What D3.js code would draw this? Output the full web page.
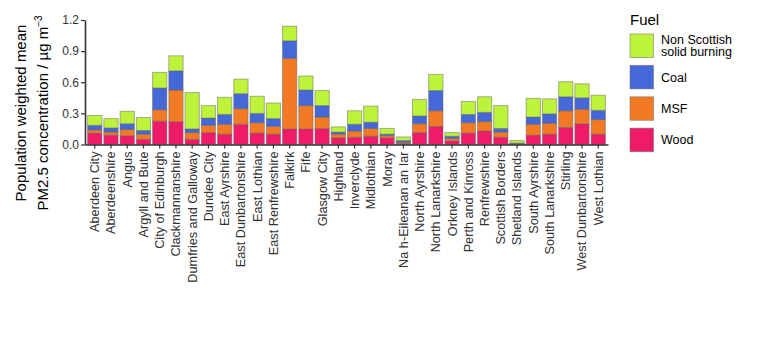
<!DOCTYPE html>
<html>
<head>
<meta charset="utf-8">
<script src="https://cdn.jsdelivr.net/npm/d3@7"></script>
<style>
  body { margin: 0; background: #fff; font-family: "Liberation Sans", Arial, sans-serif; }
  .axis text { font-family: "Liberation Sans", Arial, sans-serif; fill: #333; }
</style>
</head>
<body>
<div id="chart"></div>
<script>
// DATA
const districts = ["Aberdeen City", "Aberdeenshire", "Angus", "Argyll and Bute", "City of Edinburgh",
  "Clackmannanshire", "Dumfries and Galloway", "Dundee City", "East Ayrshire", "East Dunbartonshire",
  "East Lothian", "East Renfrewshire", "Falkirk", "Fife", "Glasgow City", "Highland", "Inverclyde",
  "Midlothian", "Moray", "Na h-Eileanan an Iar", "North Ayrshire", "North Lanarkshire", "Orkney Islands",
  "Perth and Kinross", "Renfrewshire", "Scottish Borders", "Shetland Islands", "South Ayrshire",
  "South Lanarkshire", "Stirling", "West Dunbartonshire", "West Lothian"];

const wood  = [0.11, 0.09, 0.085, 0.05, 0.225, 0.22, 0.05, 0.115, 0.10, 0.195, 0.11, 0.10, 0.15, 0.15, 0.155, 0.065,
  0.07, 0.08, 0.065, 0.012, 0.115, 0.175, 0.035, 0.11, 0.13, 0.07, 0.005, 0.09, 0.10, 0.165, 0.20, 0.10];
const msf   = [0.03, 0.03, 0.06, 0.05, 0.11, 0.305, 0.065, 0.07, 0.095, 0.15, 0.10, 0.075, 0.68, 0.225, 0.11, 0.035,
  0.06, 0.075, 0.02, 0.01, 0.085, 0.15, 0.023, 0.10, 0.09, 0.05, 0.004, 0.105, 0.105, 0.16, 0.14, 0.14];
const coal  = [0.045, 0.04, 0.055, 0.035, 0.21, 0.185, 0.035, 0.07, 0.095, 0.145, 0.09, 0.075, 0.17, 0.15, 0.11, 0.02,
  0.065, 0.06, 0.015, 0.016, 0.075, 0.195, 0.022, 0.08, 0.09, 0.035, 0.005, 0.07, 0.09, 0.135, 0.11, 0.09];
const nonScottish = [0.095, 0.09, 0.12, 0.125, 0.15, 0.145, 0.35, 0.12, 0.165, 0.14, 0.165, 0.15, 0.14, 0.135, 0.145, 0.05,
  0.13, 0.155, 0.055, 0.035, 0.16, 0.155, 0.035, 0.125, 0.15, 0.22, 0.024, 0.18, 0.145, 0.145, 0.135, 0.145];

const fuels = ["Wood", "MSF", "Coal", "Non Scottish solid burning"];
const fuelColors = ["#ef1a68", "#f37a25", "#4468d8", "#bef33c"];
const yTicks = [0, 0.3, 0.6, 0.9, 1.2];

// CHART AREA
const W = 764, H = 349;
const plot = {left: 85, right: 608, top: 20, bottom: 144.5};

const svg = d3.select("#chart").append("svg")
  .attr("width", W)
  .attr("height", H);

// table for the stack
const rows = districts.map((d, i) => ({
  district: d,
  "Wood": wood[i],
  "MSF": msf[i],
  "Coal": coal[i],
  "Non Scottish solid burning": nonScottish[i]
}));

const series = d3.stack().keys(fuels)(rows);

// SCALES
const x = d3.scaleBand()
  .domain(districts)
  .range([plot.left, plot.right])
  .paddingInner(0.12)
  .paddingOuter(0.16);

const y = d3.scaleLinear()
  .domain([0, 1.2])
  .range([plot.bottom, plot.top]);

const color = d3.scaleOrdinal().domain(fuels).range(fuelColors);

// BARS
svg.append("g").selectAll("g")
  .data(series)
  .enter().append("g")
  .attr("fill", d => color(d.key))
  .selectAll("rect")
  .data(d => d)
  .enter().append("rect")
  .attr("x", d => x(d.data.district))
  .attr("y", d => y(d[1]))
  .attr("width", x.bandwidth())
  .attr("height", d => y(d[0]) - y(d[1]))
  .attr("stroke", "#666")
  .attr("stroke-opacity", 0.5)
  .attr("stroke-width", 1);

// AXES
const xAxis = d3.axisBottom(x).tickSize(4).tickSizeOuter(0);
const yAxis = d3.axisLeft(y).tickValues(yTicks).tickFormat(d3.format(".1f")).tickSize(4).tickSizeOuter(0);

const xg = svg.append("g")
  .attr("class", "x-axis axis")
  .attr("transform", "translate(0," + plot.bottom + ")")
  .call(xAxis);
xg.select(".domain").attr("stroke", "#333").attr("stroke-width", 1.6);
xg.selectAll(".tick line").attr("stroke", "#333").attr("stroke-width", 1.2);
xg.selectAll(".tick text")
  .attr("font-size", 12.7)
  .attr("transform", "rotate(-90)")
  .attr("text-anchor", "end")
  .attr("x", -7)
  .attr("y", 0)
  .attr("dy", "0.35em");

const yg = svg.append("g")
  .attr("class", "y-axis axis")
  .attr("transform", "translate(" + plot.left + ",0)")
  .call(yAxis);
yg.select(".domain").attr("stroke", "#333").attr("stroke-width", 1.6);
yg.selectAll(".tick line").attr("stroke", "#333").attr("stroke-width", 1.2);
yg.selectAll(".tick text").attr("font-size", 12).attr("x", -6);

// Y TITLE
const yTitleY = 113;
svg.append("text")
  .attr("transform", "translate(26," + yTitleY + ") rotate(-90)")
  .attr("text-anchor", "middle")
  .attr("font-size", 15)
  .attr("fill", "#000")
  .text("Population weighted mean");

const t2 = svg.append("text")
  .attr("transform", "translate(48," + yTitleY + ") rotate(-90)")
  .attr("text-anchor", "middle")
  .attr("font-size", 15)
  .attr("fill", "#000");
t2.append("tspan").text("PM2.5 concentration / µg m");
t2.append("tspan").attr("font-size", 10).attr("dy", -6).text("−3");

// LEGEND
const legend = svg.append("g").attr("transform", "translate(630,0)");
legend.append("text")
  .attr("x", 0).attr("y", 25)
  .attr("font-size", 15)
  .attr("fill", "#000")
  .text("Fuel");

const legendItems = fuels.slice().reverse();
const keySize = 23.5, keyStep = 31.4, keyTop = 34;

const li = legend.selectAll(".legend-item")
  .data(legendItems)
  .enter().append("g")
  .attr("class", "legend-item")
  .attr("transform", (d, i) => "translate(0," + (keyTop + i * keyStep) + ")");

li.append("rect")
  .attr("width", keySize)
  .attr("height", keySize)
  .attr("fill", d => color(d))
  .attr("stroke", "#666")
  .attr("stroke-opacity", 0.5);

li.append("text")
  .attr("x", 31)
  .attr("y", keySize / 2)
  .attr("font-size", 12.5)
  .attr("fill", "#000")
  .each(function (d) {
    const el = d3.select(this);
    if (d === "Non Scottish solid burning") {
      el.append("tspan").attr("x", 31).attr("dy", "-0.15em").text("Non Scottish");
      el.append("tspan").attr("x", 31).attr("dy", "1.0em").text("solid burning");
    } else {
      el.attr("dy", "0.35em").text(d);
    }
  });
</script>
</body>
</html>
